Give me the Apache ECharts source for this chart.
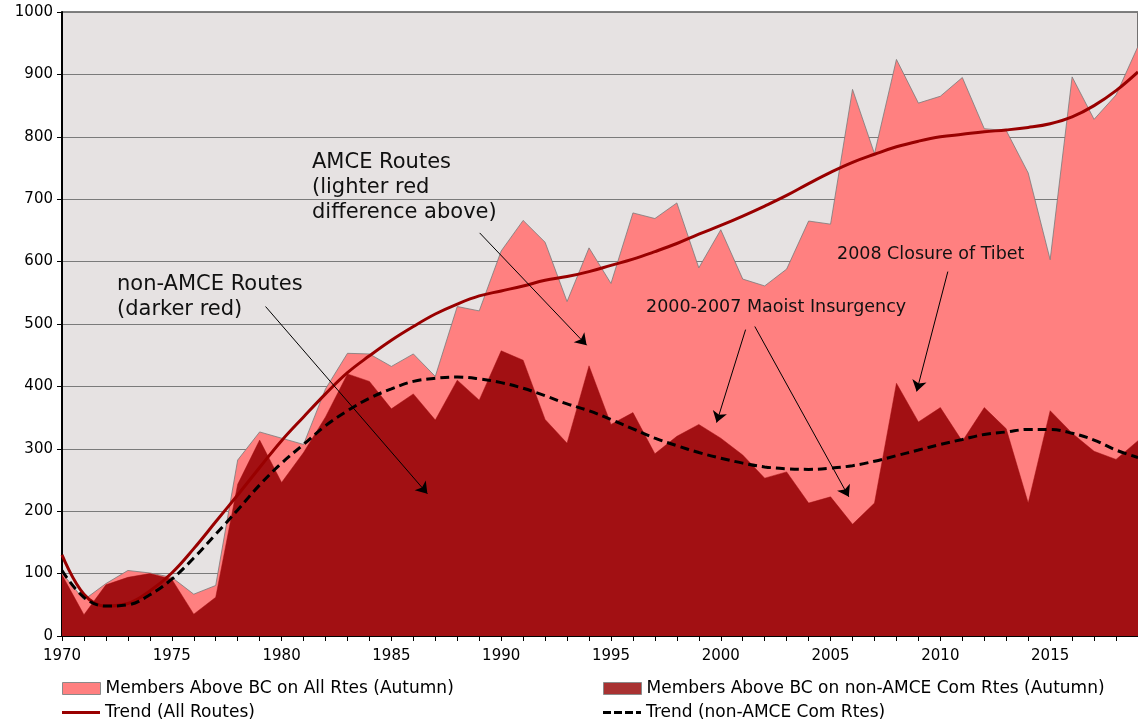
<!DOCTYPE html>
<html>
<head>
<meta charset="utf-8">
<script src="https://cdn.jsdelivr.net/npm/echarts@6/dist/echarts.min.js"></script>
<style>
  html, body { margin: 0; padding: 0; background: #fff; }
  #chart { width: 1138px; height: 724px; }
</style>
</head>
<body>
<div id="chart"></div>
<script>
const years = [1970, 1971, 1972, 1973, 1974, 1975, 1976, 1977, 1978, 1979,
  1980, 1981, 1982, 1983, 1984, 1985, 1986, 1987, 1988, 1989,
  1990, 1991, 1992, 1993, 1994, 1995, 1996, 1997, 1998, 1999,
  2000, 2001, 2002, 2003, 2004, 2005, 2006, 2007, 2008, 2009,
  2010, 2011, 2012, 2013, 2014, 2015, 2016, 2017, 2018, 2019]

// members above base camp, all routes (autumn)
const allRoutes = [101, 58, 84, 105, 101, 94, 67, 81, 282, 327,
  317, 307, 396, 453, 452, 432, 452, 416, 528, 521,
  617, 666, 631, 536, 622, 565, 678, 669, 694, 590,
  651, 572, 561, 588, 665, 660, 876, 773, 924, 854,
  865, 895, 813, 810, 742, 603, 896, 828, 867, 945]

// members above base camp, non-AMCE commercial routes (autumn)
const nonAmce = [98, 34, 82, 94, 100, 91, 35, 62, 243, 314,
  246, 294, 351, 420, 408, 364, 388, 346, 410, 378,
  457, 442, 347, 309, 433, 339, 358, 292, 320, 339,
  317, 290, 253, 263, 213, 223, 179, 213, 405, 343,
  366, 312, 366, 332, 213, 361, 325, 296, 283, 313]

const trendAll = [130, 67, 48, 52, 72, 101, 140, 183, 226, 270,
  313, 351, 388, 422, 449, 474, 496, 516, 532, 545,
  553, 561, 570, 576, 584, 594, 604, 616, 629, 644,
  658, 673, 689, 706, 725, 743, 759, 772, 784, 793,
  800, 804, 808, 811, 815, 821, 832, 850, 874, 904]

const trendNonAmce = [105, 62, 48, 50, 66, 91, 125, 163, 202, 242,
  277, 307, 337, 361, 381, 396, 408, 413, 415, 412,
  406, 397, 385, 372, 361, 347, 332, 317, 305, 294,
  285, 277, 271, 268, 267, 269, 273, 280, 289, 298,
  307, 315, 323, 327, 331, 331, 325, 314, 298, 286]

// annotation arrows: [fromYear, fromValue, toYear, toValue]
const arrows = [
  [1979.27, 528, 1986.64, 228],
  [1989.02, 646, 1993.89, 466],
  [2001.13, 491, 1999.81, 342],
  [2001.55, 496, 2005.83, 223],
  [2010.34, 584, 2008.92, 392]
]

const seriesNames = [
  'Members Above BC on All Rtes (Autumn)',
  'Members Above BC on non-AMCE Com Rtes (Autumn)',
  'Trend (All Routes)',
  'Trend (non-AMCE Com Rtes)'
]

const pairs = arr => years.map((y, i) => [y, arr[i]])
const font = 'DejaVu Sans, Verdana, sans-serif'

const chart = echarts.init(document.getElementById('chart'))

const legendText = { color: '#000', fontFamily: font, fontSize: 17 }
function legendAt (name, left, top, itemHeight, extra) {
  return {
    data: [Object.assign({ name }, extra)],
    left, top,
    padding: 0,
    itemWidth: 38,
    itemHeight,
    itemGap: 5,
    selectedMode: false,
    textStyle: legendText
  }
}

const dashIcon = 'path://M0,0h8v3h-8z M11,0h8v3h-8z M22,0h8v3h-8z M33,0h5v3h-5z'

chart.setOption({
  animation: false,
  backgroundColor: '#fff',
  grid: {
    left: 62, top: 12, bottom: 88, right: -5,
    show: true,
    backgroundColor: '#e6e2e2',
    borderColor: '#000',
    borderWidth: 1
  },
  legend: [
    legendAt(seriesNames[0], 62, 680, 12, { icon: 'rect', itemStyle: { color: '#ff8080', borderColor: '#8a8a8a', borderWidth: 1 } }),
    legendAt(seriesNames[1], 603, 680, 12, { icon: 'rect', itemStyle: { color: '#a83232', borderColor: '#8a8a8a', borderWidth: 1 } }),
    legendAt(seriesNames[2], 62, 704, 3, { icon: 'rect', itemStyle: { color: '#990000', borderWidth: 0 } }),
    legendAt(seriesNames[3], 603, 704, 3, { icon: dashIcon, itemStyle: { color: '#000', borderWidth: 0 } })
  ],
  xAxis: {
    type: 'value',
    min: 1970,
    max: 2019,
    interval: 1,
    axisLine: { lineStyle: { color: '#000', width: 2 } },
    axisTick: { show: true, length: 5, lineStyle: { color: '#000' } },
    axisLabel: {
      color: '#000', fontFamily: font, fontSize: 15, margin: 13,
      showMaxLabel: false,
      formatter: v => (v % 5 === 0 ? String(v) : '')
    },
    splitLine: { show: false }
  },
  yAxis: {
    type: 'value',
    min: 0,
    max: 1000,
    interval: 100,
    axisLine: { show: true, lineStyle: { color: '#000', width: 2 } },
    axisTick: { show: true, length: 5, lineStyle: { color: '#000' } },
    axisLabel: { color: '#000', fontFamily: font, fontSize: 15, margin: 9, formatter: v => String(v) },
    splitLine: { lineStyle: { color: '#7a7a7a', width: 1 } }
  },
  series: [
    {
      name: seriesNames[0],
      type: 'line',
      data: pairs(allRoutes),
      symbol: 'none',
      lineStyle: { color: '#7a7a7a', width: 0.8 },
      itemStyle: { color: '#ff8080' },
      areaStyle: { color: '#ff8080', opacity: 1 },
      z: 1
    },
    {
      name: seriesNames[1],
      type: 'line',
      data: pairs(nonAmce),
      symbol: 'none',
      lineStyle: { color: '#a21013', width: 0.5 },
      itemStyle: { color: '#a83232' },
      areaStyle: { color: '#a21013', opacity: 1 },
      z: 2
    },
    {
      name: seriesNames[2],
      type: 'line',
      data: pairs(trendAll),
      symbol: 'none',
      smooth: 0.4,
      lineStyle: { color: '#990000', width: 3 },
      itemStyle: { color: '#990000' },
      z: 3
    },
    {
      name: seriesNames[3],
      type: 'line',
      data: pairs(trendNonAmce),
      symbol: 'none',
      smooth: 0.4,
      lineStyle: { color: '#000', width: 3, type: [9, 5] },
      itemStyle: { color: '#000' },
      z: 4,
      markLine: {
        silent: true,
        symbol: ['none', 'arrow'],
        symbolSize: 11,
        label: { show: false },
        lineStyle: { color: '#000', width: 1, type: 'solid' },
        data: arrows.map(a => [{ coord: [a[0], a[1]] }, { coord: [a[2], a[3]] }])
      }
    }
  ],
  graphic: [
    {
      type: 'text', left: 312, top: 150, z: 10,
      style: { text: 'AMCE Routes\n(lighter red\ndifference above)', fill: '#111', fontFamily: font, fontSize: 21, lineHeight: 25 }
    },
    {
      type: 'text', left: 117, top: 272, z: 10,
      style: { text: 'non-AMCE Routes\n(darker red)', fill: '#111', fontFamily: font, fontSize: 21, lineHeight: 25 }
    },
    {
      type: 'text', left: 646, top: 298, z: 10,
      style: { text: '2000-2007 Maoist Insurgency', fill: '#111', fontFamily: font, fontSize: 17.5 }
    },
    {
      type: 'text', left: 837, top: 245, z: 10,
      style: { text: '2008 Closure of Tibet', fill: '#111', fontFamily: font, fontSize: 17.5 }
    }
  ]
})
</script>
</body>
</html>
